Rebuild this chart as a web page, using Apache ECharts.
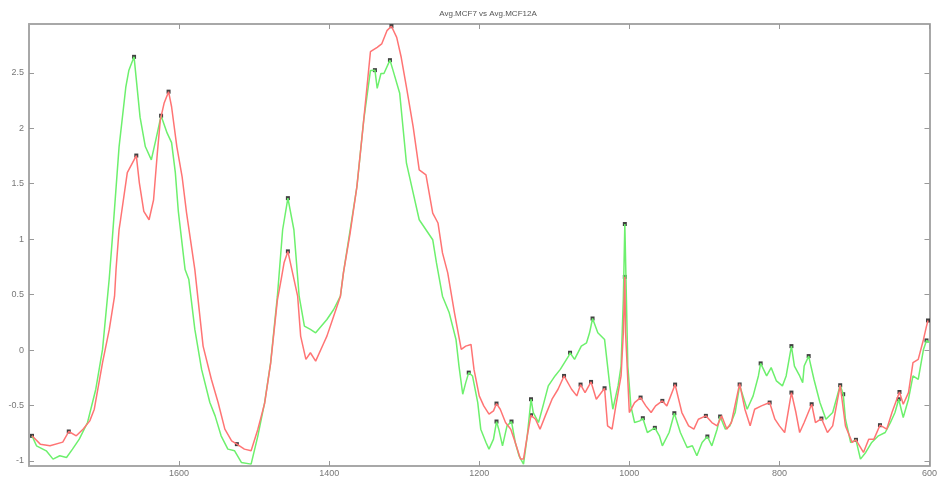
<!DOCTYPE html>
<html>
<head>
<meta charset="utf-8">
<script src="https://cdn.jsdelivr.net/npm/echarts@6/dist/echarts.min.js"></script>
<style>
  html, body { margin: 0; padding: 0; background: #fff; }
  #chart { width: 940px; height: 479px; }
</style>
</head>
<body>
<div id="chart"></div>
<script>
// tick positions
const xTicks = [600, 800, 1000, 1200, 1400, 1600];
const yTicks = [-1, -0.5, 0, 0.5, 1, 1.5, 2, 2.5];

// red trace (Avg.MCF7)
const mcf7X = [1796, 1785, 1772, 1755, 1747, 1737, 1728, 1719, 1713, 1702, 1693, 1686, 1684, 1680, 1678, 1669, 1657,
  1653, 1647, 1640, 1634, 1629, 1625, 1620, 1614, 1610, 1603, 1596, 1590, 1579, 1568, 1557, 1548, 1539, 1530, 1523,
  1513, 1504, 1495, 1486, 1478, 1469, 1464, 1460, 1455, 1442, 1438, 1431, 1425, 1418, 1407, 1403, 1394, 1385, 1381,
  1372, 1363, 1354, 1345, 1336, 1330, 1323, 1317, 1310, 1304, 1297, 1288, 1280, 1271, 1262, 1255, 1249, 1242, 1233,
  1224, 1218, 1211, 1207, 1200, 1194, 1187, 1181, 1177, 1172, 1165, 1158, 1152, 1145, 1141, 1136, 1131, 1125, 1119,
  1112, 1103, 1095, 1087, 1077, 1070, 1065, 1059, 1051, 1044, 1033, 1029, 1023, 1018, 1011, 1008, 1006, 1005, 1000,
  993, 985, 978, 971, 965, 956, 950, 939, 930, 921, 914, 908, 898, 890, 883, 877, 870, 864, 853, 846, 839, 833, 824,
  813, 806, 800, 793, 784, 778, 773, 767, 757, 752, 744, 736, 729, 719, 712, 703, 698, 688, 681, 674, 666, 657, 650,
  640, 635, 628, 622, 615, 608, 604, 602];
const mcf7Y = [-0.773, -0.848, -0.863, -0.83, -0.734, -0.773, -0.713, -0.638, -0.533, -0.113, 0.186, 0.486, 0.726, 1.085, 1.175, 1.6, 1.754,
  1.51, 1.25, 1.175, 1.355, 1.775, 2.075, 2.225, 2.33, 2.194, 1.835, 1.565, 1.235, 0.726, 0.036, -0.263, -0.473, -0.713, -0.818, -0.848,
  -0.893, -0.908, -0.713, -0.48, -0.12, 0.45, 0.636, 0.79, 0.89, 0.486, 0.126, -0.084, -0.024, -0.099, 0.066, 0.126, 0.306, 0.486, 0.696,
  1.056, 1.475, 2.07, 2.69, 2.73, 2.76, 2.88, 2.92, 2.82, 2.64, 2.37, 2.01, 1.625, 1.58, 1.235, 1.146, 0.876, 0.696, 0.336,
  0.006, 0.036, 0.051, -0.174, -0.413, -0.503, -0.578, -0.548, -0.482, -0.533, -0.653, -0.713, -0.833, -0.983, -0.983, -0.773, -0.587, -0.623, -0.713,
  -0.593, -0.443, -0.353, -0.233, -0.353, -0.413, -0.311, -0.383, -0.287, -0.443, -0.344, -0.683, -0.713, -0.503, -0.233, 0.156, 0.66, 0.156, -0.563,
  -0.473, -0.428, -0.503, -0.563, -0.503, -0.458, -0.503, -0.311, -0.563, -0.683, -0.713, -0.623, -0.593, -0.653, -0.683, -0.593, -0.713, -0.653, -0.302, -0.533, -0.683, -0.533, -0.503,
  -0.473, -0.623, -0.683, -0.743, -0.383, -0.563, -0.743, -0.653, -0.488, -0.653, -0.617, -0.743, -0.683, -0.317, -0.683, -0.833, -0.809, -0.923, -0.803, -0.803, -0.677, -0.713, -0.563,
  -0.378, -0.488, -0.383, -0.113, -0.084, 0.096, 0.216, 0.267];

// green trace (Avg.MCF12A)
const mcf12aX = [1796, 1790, 1777, 1768, 1759, 1750, 1742, 1733, 1722, 1711, 1702, 1693, 1689, 1680, 1671, 1667, 1660,
  1652, 1645, 1637, 1631, 1624, 1616, 1610, 1605, 1601, 1592, 1587, 1579, 1570, 1559, 1552, 1544, 1535, 1526, 1517,
  1504, 1495, 1486, 1478, 1469, 1462, 1455, 1447, 1440, 1433, 1425, 1418, 1403, 1394, 1385, 1381, 1372, 1363, 1354,
  1345, 1339, 1336, 1331, 1327, 1319, 1315, 1306, 1297, 1288, 1280, 1271, 1262, 1257, 1249, 1240, 1231, 1227, 1222,
  1218, 1214, 1209, 1202, 1198, 1191, 1187, 1181, 1177, 1174, 1169, 1163, 1157, 1152, 1147, 1141, 1136, 1131, 1128,
  1121, 1115, 1108, 1099, 1092, 1081, 1079, 1073, 1064, 1057, 1053, 1049, 1042, 1033, 1026, 1022, 1015, 1011, 1008,
  1006, 1002, 998, 993, 986, 982, 976, 966, 960, 956, 947, 940, 932, 923, 916, 910, 903, 896, 890, 883, 879, 872, 866,
  859, 853, 843, 835, 828, 825, 817, 811, 804, 796, 791, 784, 780, 773, 769, 767, 761, 754, 746, 738, 729, 719, 715,
  712, 705, 698, 692, 685, 677, 668, 659, 652, 646, 641, 635, 628, 622, 615, 608, 604, 600];
const mcf12aY = [-0.773, -0.863, -0.908, -0.983, -0.953, -0.968, -0.893, -0.803, -0.653, -0.353, 0.006, 0.65, 1.0, 1.83, 2.37, 2.52, 2.644,
  2.10, 1.835, 1.715, 1.895, 2.113, 1.958, 1.87, 1.6, 1.25, 0.726, 0.636, 0.186, -0.174, -0.473, -0.593, -0.773, -0.893, -0.908, -1.013,
  -1.028, -0.773, -0.473, -0.113, 0.486, 1.085, 1.37, 1.085, 0.486, 0.216, 0.186, 0.156, 0.276, 0.366, 0.486, 0.696, 1.085, 1.475, 2.07,
  2.52, 2.524, 2.36, 2.494, 2.494, 2.614, 2.524, 2.315, 1.685, 1.415, 1.175, 1.085, 0.995, 0.786, 0.486, 0.336, 0.096, -0.144, -0.398,
  -0.293, -0.203, -0.233, -0.473, -0.713, -0.833, -0.893, -0.803, -0.644, -0.713, -0.863, -0.683, -0.644, -0.833, -0.953, -1.028, -0.773, -0.443, -0.563,
  -0.653, -0.503, -0.323, -0.233, -0.174, -0.054, -0.024, -0.084, 0.036, 0.066, 0.156, 0.285, 0.156, 0.096, -0.323, -0.533, -0.323, -0.144, 0.456,
  1.137, -0.144, -0.503, -0.653, -0.638, -0.614, -0.743, -0.701, -0.773, -0.863, -0.743, -0.569, -0.743, -0.878, -0.863, -0.953, -0.833, -0.779, -0.863, -0.713, -0.599, -0.713, -0.683,
  -0.563, -0.32, -0.533, -0.413, -0.233, -0.12, -0.233, -0.158, -0.278, -0.323, -0.233, 0.036, -0.144, -0.233, -0.293, -0.144, -0.054, -0.263, -0.473, -0.623, -0.563, -0.317, -0.398,
  -0.623, -0.833, -0.809, -0.983, -0.923, -0.833, -0.773, -0.743, -0.653, -0.563, -0.443, -0.608, -0.443, -0.233, -0.263, 0.006, 0.087, 0.066];

// black peak markers
const peakX = [1796, 1747, 1660, 1657, 1624, 1614, 1523, 1455, 1455, 1339, 1319, 1317, 1214, 1177, 1177, 1157, 1131, 1131,
  1087, 1079, 1065, 1051, 1049, 1033, 1006, 1006, 985, 982, 966, 956, 940, 939, 898, 896, 879, 853, 825, 813, 784, 784,
  761, 757, 744, 719, 715, 698, 666, 641, 640, 604, 602];
const peakY = [-0.773, -0.734, 2.644, 1.754, 2.113, 2.33, -0.848, 1.37, 0.89, 2.524, 2.614, 2.92, -0.203, -0.482, -0.644, -0.644, -0.443, -0.587,
  -0.233, -0.024, -0.311, -0.287, 0.285, -0.344, 1.137, 0.66, -0.428, -0.614, -0.701, -0.458, -0.569, -0.311, -0.593, -0.779, -0.599, -0.31, -0.12, -0.473, 0.036, -0.383,
  -0.054, -0.488, -0.617, -0.317, -0.398, -0.809, -0.677, -0.443, -0.378, 0.087, 0.267];

const pairs = (xs, ys) => xs.map((x, i) => [x, ys[i]]);

const axisGray = '#a8a8a8';
const labelStyle = { color: '#777', fontSize: 9, fontFamily: 'Liberation Sans, Arial, sans-serif' };

function xAxisCfg(pos, showLabels) {
  return {
    type: 'value', position: pos, inverse: true, min: 600, max: 1800,
    axisLine: { show: true, onZero: false, lineStyle: { color: axisGray, width: 2 } },
    axisTick: { show: true, inside: true, length: 5, customValues: xTicks, lineStyle: { color: '#999' } },
    axisLabel: Object.assign({ show: showLabels, margin: 3, customValues: xTicks, formatter: v => String(v) }, labelStyle),
    splitLine: { show: false }
  };
}
function yAxisCfg(pos, showLabels) {
  return {
    type: 'value', position: pos, min: -1.045, max: 2.94,
    axisLine: { show: true, onZero: false, lineStyle: { color: axisGray, width: 2 } },
    axisTick: { show: true, inside: true, length: 5, customValues: yTicks, lineStyle: { color: '#999' } },
    axisLabel: Object.assign({ show: showLabels, margin: 5, customValues: yTicks }, labelStyle),
    splitLine: { show: false }
  };
}

const chart = echarts.init(document.getElementById('chart'));
chart.setOption({
  animation: false,
  backgroundColor: '#fff',
  title: {
    text: 'Avg.MCF7 vs Avg.MCF12A',
    left: 483, top: 5, textAlign: 'center',
    textStyle: { color: '#555', fontSize: 8, fontWeight: 'normal', fontFamily: 'Liberation Sans, Arial, sans-serif' }
  },
  grid: { left: 29, right: 2, top: 24, bottom: 13, containLabel: false },
  xAxis: [xAxisCfg('bottom', true), xAxisCfg('top', false)],
  yAxis: [yAxisCfg('left', true), yAxisCfg('right', false)],
  series: [
    {
      name: 'Avg.MCF12A', type: 'line', symbol: 'none', clip: false,
      lineStyle: { color: '#6df06d', width: 1.5 },
      data: pairs(mcf12aX, mcf12aY)
    },
    {
      name: 'Avg.MCF7', type: 'line', symbol: 'none', clip: false,
      lineStyle: { color: '#ff7474', width: 1.5 },
      data: pairs(mcf7X, mcf7Y)
    },
    {
      name: 'peaks', type: 'scatter', symbol: 'rect', symbolSize: 4,
      itemStyle: { color: '#111' },
      data: pairs(peakX, peakY)
    }
  ]
});
</script>
</body>
</html>
